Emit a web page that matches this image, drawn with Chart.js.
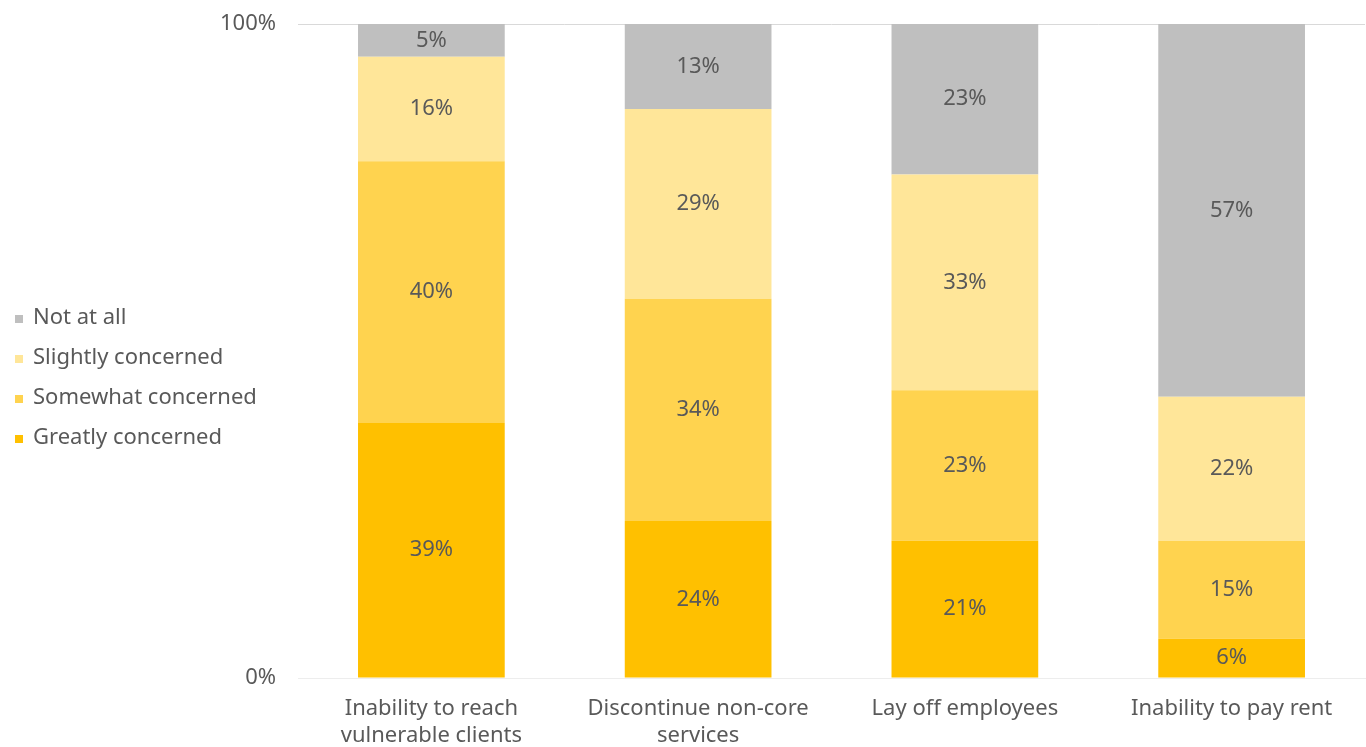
<!DOCTYPE html>
<html>
<head>
<meta charset="utf-8">
<script src="https://cdn.jsdelivr.net/npm/chart.js@4.4.1/dist/chart.umd.min.js"></script>
<style>
  html, body { margin: 0; padding: 0; background: #fff; }
  #wrap { position: relative; width: 1366px; height: 747px; }
</style>
</head>
<body>
<div id="wrap"><canvas id="concernChart"></canvas></div>
<script>
// categories (x axis), multi-line where the original wraps
const categories = [
    ['Inability to reach', 'vulnerable clients'],
    ['Discontinue non-core', 'services'],
    'Lay off employees',
    'Inability to pay rent'
];

// shares per answer, in %
const greatly  = [39, 24, 21, 6];
const somewhat = [40, 34, 23, 15];
const slightly = [16, 29, 33, 22];
const notAtAll = [5, 13, 23, 57];

const yTicks = [0, 100];

const textColor = '#595959';
const fontFamily = '"Noto Sans", Lato, sans-serif';

// labels in the middle of every segment
const segmentLabels = {
    id: 'segmentLabels',
    afterDatasetsDraw(chart) {
        const ctx = chart.ctx;
        ctx.save();
        ctx.font = '22px ' + fontFamily;
        ctx.fillStyle = textColor;
        ctx.textAlign = 'center';
        ctx.textBaseline = 'middle';
        chart.data.datasets.forEach((ds, i) => {
            chart.getDatasetMeta(i).data.forEach((bar, j) => {
                let mid = (bar.y + bar.base) / 2;
                ctx.fillText(ds.data[j] + '%', bar.x, mid);
            });
        });
        ctx.restore();
    }
};

// legend on the left, reversed order (top item = top segment)
const sideLegend = {
    id: 'sideLegend',
    afterDraw(chart) {
        const ctx = chart.ctx;
        ctx.save();
        ctx.font = '22px ' + fontFamily;
        ctx.textBaseline = 'middle';
        let items = chart.data.datasets.slice().reverse();
        items.forEach((ds, i) => {
            let y = 318 + i * 40;
            ctx.fillStyle = ds.backgroundColor;
            ctx.fillRect(15, y - 3, 8, 8);
            ctx.fillStyle = textColor;
            ctx.fillText(ds.label, 33, y);
        });
        ctx.restore();
    }
};

const data = {
    labels: categories,
    datasets: [
        { label: 'Greatly concerned', data: greatly, backgroundColor: '#FFC000' },
        { label: 'Somewhat concerned', data: somewhat, backgroundColor: '#FFD34F' },
        { label: 'Slightly concerned', data: slightly, backgroundColor: '#FFE699' },
        { label: 'Not at all', data: notAtAll, backgroundColor: '#BFBFBF' }
    ]
};

const config = {
    type: 'bar',
    data,
    options: {
        responsive: false,
        animation: false,
        layout: { padding: { left: 218, top: 24, right: 1, bottom: 0 } },
        datasets: {
            bar: { barPercentage: 0.55, categoryPercentage: 1, borderWidth: 0 }
        },
        plugins: {
            legend: { display: false },
            tooltip: { enabled: false }
        },
        scales: {
            x: {
                stacked: true,
                grid: { display: false, drawTicks: false },
                border: { display: true, color: '#EDEDED' },
                ticks: {
                    color: textColor,
                    font: { size: 22, family: fontFamily, lineHeight: 1.22 },
                    padding: 17,
                    maxRotation: 0
                },
                afterFit: (s) => { s.height = 69; s.paddingLeft = 0; s.paddingRight = 0; }
            },
            y: {
                stacked: true,
                min: 0,
                max: 100,
                afterBuildTicks: (s) => { s.ticks = yTicks.map(v => ({ value: v })); },
                grid: {
                    drawTicks: false,
                    color: (c) => c.tick && c.tick.value === 100 ? '#D9D9D9' : 'rgba(0,0,0,0)'
                },
                border: { display: false },
                ticks: {
                    color: textColor,
                    font: { size: 22, family: fontFamily },
                    padding: 22,
                    callback: (v) => v + '%'
                },
                afterFit: (s) => { s.width = 80; s.paddingTop = 0; s.paddingBottom = 0; }
            }
        }
    },
    plugins: [segmentLabels, sideLegend]
};

const canvas = document.getElementById('concernChart');
canvas.width = 1366;
canvas.height = 747;
new Chart(canvas, config);
</script>
</body>
</html>
